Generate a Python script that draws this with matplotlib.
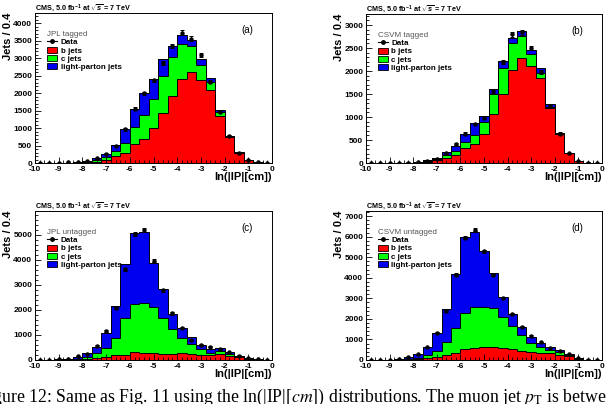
import numpy as np
import matplotlib
matplotlib.use("Agg")
import matplotlib.pyplot as plt
from matplotlib.lines import Line2D
from matplotlib.patches import Patch
from matplotlib.ticker import MultipleLocator

# 25 bins of width 0.4 in ln(|IP|[cm])
edges = np.linspace(-10, 0, 26)

# (a) JPL tagged
b_a = [0, 1, 2, 3, 8, 20, 40, 100, 190, 285, 550, 700, 990, 1440, 1930, 2410, 2590, 2380, 2080, 1350, 740, 276, 75, 15, 3]
c_a = [0, 0, 1, 3, 7, 15, 40, 80, 140, 285, 470, 680, 840, 1060, 1090, 990, 770, 430, 250, 110, 30, 24, 3, 2, 1]
l_a = [2, 2, 3, 6, 15, 30, 60, 80, 190, 400, 530, 620, 580, 480, 330, 270, 160, 160, 90, 60, 10, 10, 2, 1, 1]
data_a = [5, 5, 8, 15, 30, 60, 130, 270, 500, 960, 1550, 2000, 2360, 2870, 3350, 3730, 3560, 3080, 2330, 1460, 770, 280, 80, 20, 5]

# (b) CSVM tagged
b_b = [1, 1, 1, 2, 5, 12, 30, 70, 100, 180, 320, 420, 625, 1075, 1510, 2020, 2290, 2120, 1845, 1200, 620, 210, 35, 8, 3]
c_b = [0, 0, 1, 1, 2, 6, 15, 25, 75, 80, 130, 180, 275, 415, 545, 580, 470, 260, 115, 20, 10, 5, 3, 1, 1]
l_b = [1, 1, 1, 2, 3, 12, 25, 15, 65, 120, 170, 270, 130, 130, 160, 110, 110, 70, 95, 60, 15, 5, 2, 1, 1]
data_b = [3, 3, 4, 5, 10, 25, 50, 90, 210, 410, 640, 850, 980, 1560, 2200, 2800, 2840, 2500, 1970, 1250, 640, 210, 40, 10, 3]

# (c) JPL untagged
b_c = [1, 1, 2, 3, 15, 40, 70, 130, 190, 210, 330, 290, 270, 250, 230, 270, 240, 200, 200, 230, 170, 120, 40, 12, 5]
c_c = [2, 2, 3, 5, 25, 90, 200, 340, 700, 1470, 1910, 1990, 1840, 1430, 1000, 620, 400, 230, 90, 130, 60, 30, 10, 4, 2]
l_c = [7, 7, 15, 22, 60, 140, 260, 600, 1270, 2160, 2830, 2850, 1760, 1150, 610, 400, 290, 170, 140, 110, 80, 20, 10, 4, 3]
data_c = [10, 10, 20, 30, 140, 250, 560, 1170, 2090, 3620, 5030, 5180, 3960, 2780, 1860, 1280, 790, 600, 530, 430, 300, 170, 60, 20, 10]

# (d) CSVM untagged
b_d = [1, 2, 2, 5, 15, 30, 80, 130, 240, 320, 530, 580, 615, 615, 580, 530, 450, 400, 360, 320, 260, 200, 70, 15, 5]
c_d = [1, 2, 3, 7, 35, 80, 160, 320, 650, 1250, 1740, 2010, 1975, 1895, 1530, 1120, 750, 440, 290, 180, 130, 50, 15, 3, 2]
l_d = [3, 6, 10, 18, 110, 170, 380, 880, 1570, 2600, 3730, 3650, 2710, 1700, 940, 590, 420, 290, 180, 120, 80, 30, 10, 4, 3]
data_d = [5, 10, 15, 30, 140, 270, 630, 1330, 2380, 4160, 5950, 6340, 5290, 4140, 3030, 2240, 1630, 1170, 860, 600, 460, 290, 110, 20, 10]

plt.rcParams['font.family'] = ['Liberation Sans', 'DejaVu Sans']
plt.rcParams['axes.unicode_minus'] = False
plt.rcParams['mathtext.fontset'] = 'custom'
plt.rcParams['mathtext.rm'] = 'Liberation Sans:bold'
plt.rcParams['mathtext.bf'] = 'Liberation Sans:bold'
plt.rcParams['mathtext.it'] = 'Liberation Sans:italic:bold'

RED, GREEN, BLUE = '#ff0000', '#00ff00', '#0000f0'

fig = plt.figure(figsize=(6.06, 4.04), dpi=100)


def draw(rect, b, c, l, data, header, tag, ymax, ystep):
    ax = fig.add_axes(rect)
    b = np.array(b, float)
    bc = b + np.array(c, float)
    tot = bc + np.array(l, float)
    data = np.array(data, float)

    ax.stairs(tot, edges, baseline=bc, fill=True, color=BLUE, lw=0)
    ax.stairs(bc, edges, baseline=b, fill=True, color=GREEN, lw=0)
    ax.stairs(b, edges, baseline=0, fill=True, color=RED, lw=0)
    for h in (tot, bc, b):
        ax.stairs(h, edges, color='k', lw=0.7)

    centers = 0.5 * (edges[:-1] + edges[1:])
    ax.errorbar(centers, data, yerr=np.sqrt(data), fmt='o', color='k',
                ms=2.2, lw=0.7, capsize=1.2, capthick=0.7)

    ax.set_xlim(-10, 0)
    ax.set_ylim(0, ymax)
    ax.xaxis.set_major_locator(MultipleLocator(1))
    ax.xaxis.set_minor_locator(MultipleLocator(0.2))
    ax.yaxis.set_major_locator(MultipleLocator(ystep))
    ax.yaxis.set_minor_locator(MultipleLocator(ystep / 5))
    ax.tick_params(which='both', direction='in', top=False, right=False,
                   labelsize=6, pad=2, width=0.6)
    ax.tick_params(which='major', length=4)
    ax.tick_params(which='minor', length=2)
    plt.setp(ax.get_xticklabels() + ax.get_yticklabels(), fontweight='bold')
    for s in ax.spines.values():
        s.set_linewidth(0.7)

    ax.set_xlabel('ln(|IP|[cm])', loc='right', fontsize=8, fontweight='bold')
    ax.xaxis.set_label_coords(1.0, -0.06)
    ax.xaxis.label.set_va('top')
    ax.set_ylabel('Jets / 0.4', loc='top', fontsize=8, fontweight='bold')
    ax.yaxis.set_label_coords(-0.093, 1.0)

    ax.text(0, 1.02, r'CMS, 5.0 fb$^{-1}$ at $\sqrt{s}$ = 7 TeV',
            transform=ax.transAxes, fontsize=5.2, fontweight='bold',
            va='baseline', ha='left')
    ax.text(0.895, 0.885, tag, transform=ax.transAxes, fontsize=7,
            ha='center', va='center')

    handles = [Line2D([], [], color='k', marker='o', ms=2.5, lw=0.8),
               Patch(fc=RED, ec='k', lw=0.6),
               Patch(fc=GREEN, ec='k', lw=0.6),
               Patch(fc=BLUE, ec='k', lw=0.6)]
    leg = ax.legend(handles, ['Data', 'b jets', 'c jets', 'light-parton jets'],
                    title=header, loc='upper left', bbox_to_anchor=(0.05, 0.88),
                    frameon=False, prop={'weight': 'bold', 'size': 5.8},
                    title_fontproperties={'size': 5.8, 'weight': 'normal'},
                    handlelength=1.3, handleheight=0.8, handletextpad=0.4,
                    labelspacing=0.05, borderpad=0, borderaxespad=0,
                    alignment='left')
    leg.get_title().set_color('#555555')
    return ax


W, H = 606, 404
def rect(x0, y0, x1, y1):
    return [x0 / W, 1 - y1 / H, (x1 - x0) / W, (y1 - y0) / H]

draw(rect(35, 13, 272, 163), b_a, c_a, l_a, data_a, 'JPL tagged', '(a)', 4290, 500)
draw(rect(366, 14, 602, 163), b_b, c_b, l_b, data_b, 'CSVM tagged', '(b)', 3240, 500)
draw(rect(35, 211, 272, 360), b_c, c_c, l_c, data_c, 'JPL untagged', '(c)', 5950, 1000)
draw(rect(366, 211, 602, 360), b_d, c_d, l_d, data_d, 'CSVM untagged', '(d)', 7250, 1000)

# figure caption, cut by the page edges as in the reference
fig.text(-0.037, 0.004,
         r'Figure 12: Same as Fig. 11 using the ln(|IP|[$cm$]) distributions. The muon jet $p_{\rm T}$ is between 20 and 30 GeV.',
         family='Liberation Serif', fontsize=12.8, fontweight='normal',
         math_fontfamily='stix', ha='left', va='baseline')

fig.savefig('out.png', dpi=100)
